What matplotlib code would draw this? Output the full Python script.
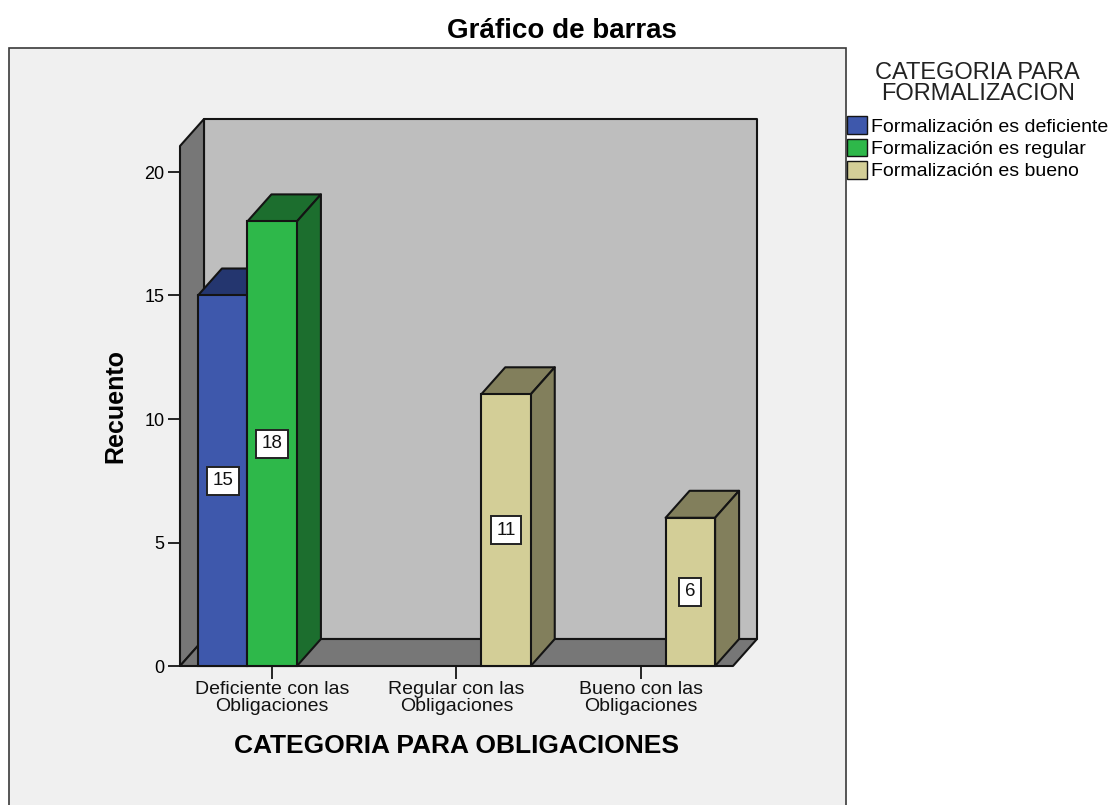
import matplotlib
matplotlib.use("Agg")
import matplotlib.pyplot as plt
from matplotlib.patches import Polygon, Rectangle, Patch

plt.rcParams["font.family"] = ["Liberation Sans", "DejaVu Sans"]

# ==================================================
# Data
# ==================================================
categories = ["Deficiente con las\nObligaciones", "Regular con las\nObligaciones", "Bueno con las\nObligaciones"]
series_names = ["Formalización es deficiente", "Formalización es regular", "Formalización es bueno"]
deficiente = [15, 0, 0]
regular = [18, 0, 0]
bueno = [0, 11, 6]
y_ticks = [0, 5, 10, 15, 20]

front_colors = ["#3E58AC", "#2EB84A", "#D3CE97"]
dark_colors = ["#24366F", "#1C6E2E", "#827F5C"]
edge = "#141414"

# ==================================================
# Layout (pixels of a 1110x805 figure)
# ==================================================
W, H = 1110, 805
fig = plt.figure(figsize=(W / 100, H / 100), dpi=100, facecolor="white")

# outer panel, runs off the bottom of the picture
fig.add_artist(Rectangle((9 / W, -0.02), 837 / W, 1.02 - 48 / H, transform=fig.transFigure,
                         facecolor="#F0F0F0", edgecolor="#3a3a3a", linewidth=1.2, zorder=-1))

ax = fig.add_axes([180 / W, 1 - 666 / H, 553 / W, 520 / H])
ax.patch.set_alpha(0)
for s in ax.spines.values():
    s.set_visible(False)
ax.set_xlim(-0.5, 2.5)
ax.set_ylim(0, 520 / 24.7)

# depth of the 3D effect in data units
dx = 24 / (553 / 3)
dy = 27 / 24.7
x0, x1 = ax.get_xlim()
ytop = ax.get_ylim()[1]

# ----- walls and floor -----
wall_kw = dict(edgecolor=edge, linewidth=1.5, clip_on=False, joinstyle="round")
ax.add_patch(Polygon([(x0 + dx, dy), (x1 + dx, dy), (x1 + dx, ytop + dy), (x0 + dx, ytop + dy)],
                     facecolor="#BEBEBE", zorder=1, **wall_kw))
ax.add_patch(Polygon([(x0, 0), (x0 + dx, dy), (x0 + dx, ytop + dy), (x0, ytop)],
                     facecolor="#777777", zorder=1.1, **wall_kw))
ax.add_patch(Polygon([(x0, 0), (x1, 0), (x1 + dx, dy), (x0 + dx, dy)],
                     facecolor="#777777", zorder=1.1, **wall_kw))

# ----- bars -----
bar_w = 49.5 / (553 / 3)
offsets = [-bar_w, 0, bar_w]
z = 2
for vals, off, fc, dc in zip([deficiente, regular, bueno], offsets, front_colors, dark_colors):
    for i, v in enumerate(vals):
        if v == 0:
            continue
        left = i + off - bar_w / 2
        right = left + bar_w
        ax.add_patch(Polygon([(left, v), (right, v), (right + dx, v + dy), (left + dx, v + dy)],
                             facecolor=dc, zorder=z, **wall_kw))
        ax.add_patch(Polygon([(right, 0), (right + dx, dy), (right + dx, v + dy), (right, v)],
                             facecolor=dc, zorder=z, **wall_kw))
        ax.bar(i + off, v, width=bar_w, color=fc, edgecolor=edge, linewidth=1.5, zorder=z + 0.1, clip_on=False)
        ax.text(i + off, v / 2, str(v), ha="center", va="center", fontsize=13.5, color="#111111", zorder=20,
                bbox=dict(boxstyle="square,pad=0.3", facecolor="white", edgecolor="#222222", linewidth=1.4))
        z += 1

# ----- axes -----
ax.set_xticks(range(len(categories)))
ax.set_xticklabels(categories, fontsize=14, linespacing=0.95, color="#111111")
ax.set_yticks(y_ticks)
ax.tick_params(axis="both", length=9, width=1.3, color=edge)
ax.tick_params(axis="y", labelsize=13, pad=2)
ax.tick_params(axis="x", pad=2)

fig.text(115 / W, 1 - 406 / H, "Recuento", rotation=90, ha="center", va="center", fontsize=18, fontweight="bold")
fig.text(457 / W, 1 - 746 / H, "CATEGORIA PARA OBLIGACIONES", ha="center", va="center", fontsize=19, fontweight="bold")
fig.text(562 / W, 1 - 31 / H, "Gráfico de barras", ha="center", va="center", fontsize=20, fontweight="bold")

# ----- legend -----
handles = [Patch(facecolor=c, edgecolor=edge, linewidth=1.0) for c in front_colors]
leg = fig.legend(handles, series_names, loc="upper left", bbox_to_anchor=(831.5 / W, 1 - 46 / H),
                 frameon=False, fontsize=14, title="CATEGORIA PARA\nFORMALIZACION", title_fontsize=17,
                 handlelength=1.0, handleheight=1.0, handletextpad=0.25, labelspacing=0.16, borderpad=0.3)
leg.get_title().set_linespacing(0.97)
leg.get_title().set_multialignment("center")
leg.get_title().set_color("#222222")
leg._legend_box.sep = 8

fig.savefig("out.png", dpi=100)
